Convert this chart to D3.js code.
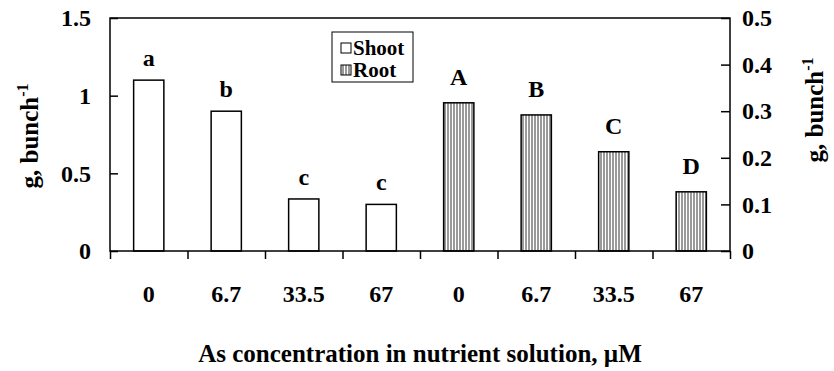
<!DOCTYPE html>
<html><head><meta charset="utf-8">
<script src="https://cdn.jsdelivr.net/npm/d3@7"></script>
</head>
<body style="margin:0;background:#fff">
<svg id="fig" width="834" height="371" style="display:block"></svg>
<script>
const categories = ["0","6.7","33.5","67","0","6.7","33.5","67"];
const shootValues = [1.10, 0.90, 0.335, 0.30];
const rootValues = [0.318, 0.292, 0.213, 0.127];
const shootLetters = ["a","b","c","c"];
const rootLetters = ["A","B","C","D"];
const leftTicks = [0, 0.5, 1, 1.5];
const rightTicks = [0, 0.1, 0.2, 0.3, 0.4, 0.5];
const seriesNames = ["Shoot","Root"];
const yLabel = "g, bunch";
const yLabelSup = "-1";
const xTitle = "As concentration in nutrient solution, \u00b5M";

const FONT = '"Liberation Serif", "Times New Roman", Times, serif';
const svg = d3.select("#fig");
const L = 110, R = 730, T = 18, B = 251;

const defs = svg.append("defs");
const pat = defs.append("pattern").attr("id","vhatch").attr("patternUnits","userSpaceOnUse")
  .attr("width",3).attr("height",10);
pat.append("rect").attr("width",3).attr("height",10).attr("fill","#fff");
pat.append("rect").attr("width",2).attr("height",10).attr("fill","#9a9a9a");

const x = d3.scaleBand().domain(d3.range(categories.length)).range([L,R])
  .paddingInner(0.61).paddingOuter(0.305);
const xEdge = d3.scaleLinear().domain([0,categories.length]).range([L,R]);
const yL = d3.scaleLinear().domain([0,1.5]).range([B,T]);
const yR = d3.scaleLinear().domain([0,0.5]).range([B,T]);

const shootData = shootValues.map((v,i)=>({i, v, letter: shootLetters[i]}));
const rootData = rootValues.map((v,i)=>({i: i+4, v, letter: rootLetters[i]}));

svg.append("g").selectAll("rect").data(shootData).join("rect")
  .attr("x",d=>x(d.i)).attr("width",x.bandwidth())
  .attr("y",d=>yL(d.v)).attr("height",d=>B-yL(d.v))
  .attr("fill","#fff").attr("stroke","#000").attr("stroke-width",1.5);
svg.append("g").selectAll("rect").data(rootData).join("rect")
  .attr("x",d=>x(d.i)).attr("width",x.bandwidth())
  .attr("y",d=>yR(d.v)).attr("height",d=>B-yR(d.v))
  .attr("fill","url(#vhatch)").attr("stroke","#000").attr("stroke-width",1.5);

svg.append("g").selectAll("text").data(shootData).join("text")
  .attr("x",d=>x(d.i)+x.bandwidth()/2).attr("y",d=>yL(d.v)-14)
  .attr("text-anchor","middle").attr("font-size",24).text(d=>d.letter);
svg.append("g").selectAll("text").data(rootData).join("text")
  .attr("x",d=>x(d.i)+x.bandwidth()/2).attr("y",d=>yR(d.v)-18)
  .attr("text-anchor","middle").attr("font-size",24).text(d=>d.letter);

svg.append("rect").attr("x",L).attr("y",T).attr("width",R-L).attr("height",B-T)
  .attr("fill","none").attr("stroke","#000").attr("stroke-width",1.5);

const gL = svg.append("g").attr("transform",`translate(${L},0)`)
  .call(d3.axisLeft(yL).tickValues(leftTicks).tickFormat(d=>String(d)).tickSizeInner(-8).tickSizeOuter(0).tickPadding(19));
const gR = svg.append("g").attr("transform",`translate(${R},0)`)
  .call(d3.axisRight(yR).tickValues(rightTicks).tickFormat(d=>String(d)).tickSizeInner(-9).tickSizeOuter(0).tickPadding(12));
const gB = svg.append("g").attr("transform",`translate(0,${B})`)
  .call(d3.axisBottom(xEdge).tickValues(d3.range(categories.length+1)).tickFormat("").tickSizeInner(8).tickSizeOuter(0));
const gX = svg.append("g").attr("transform",`translate(0,${B})`)
  .call(d3.axisBottom(x).tickFormat(i=>categories[i]).tickSize(0).tickPadding(34));
[gL,gR,gB,gX].forEach(g=>{
  g.attr("font-family", null).attr("font-size", null);
  g.select(".domain").remove();
  g.selectAll("line").attr("stroke","#000").attr("stroke-width",1.5);
  g.selectAll("text").attr("font-size",24).attr("fill","#000");
});

function yLab(xp, yp){
  const t = svg.append("text").attr("transform",`translate(${xp},${yp}) rotate(-90)`)
    .attr("text-anchor","middle").attr("font-size",25);
  t.append("tspan").text(yLabel);
  t.append("tspan").attr("dy",-10).attr("font-size",16).text(yLabelSup);
}
yLab(38, 136);
yLab(823, 110);

svg.append("text").attr("x",(L+R)/2).attr("y",362).attr("text-anchor","middle")
  .attr("font-size",25).text(xTitle);

const lg = svg.append("g");
lg.append("rect").attr("x",332).attr("y",32).attr("width",81).attr("height",50)
  .attr("fill","#fff").attr("stroke","#000").attr("stroke-width",1);
const fills = ["#fff","url(#vhatch)"];
seriesNames.forEach((n,k)=>{
  const yy = 55 + k*22;
  lg.append("rect").attr("x",341).attr("y",yy-12).attr("width",10).attr("height",10)
    .attr("fill",fills[k]).attr("stroke","#000").attr("stroke-width",1);
  lg.append("text").attr("x",353).attr("y",yy).attr("font-size",21).text(n);
});

svg.selectAll("text").style("font-family", FONT, "important").style("font-weight","bold", "important");
</script>
</body></html>
